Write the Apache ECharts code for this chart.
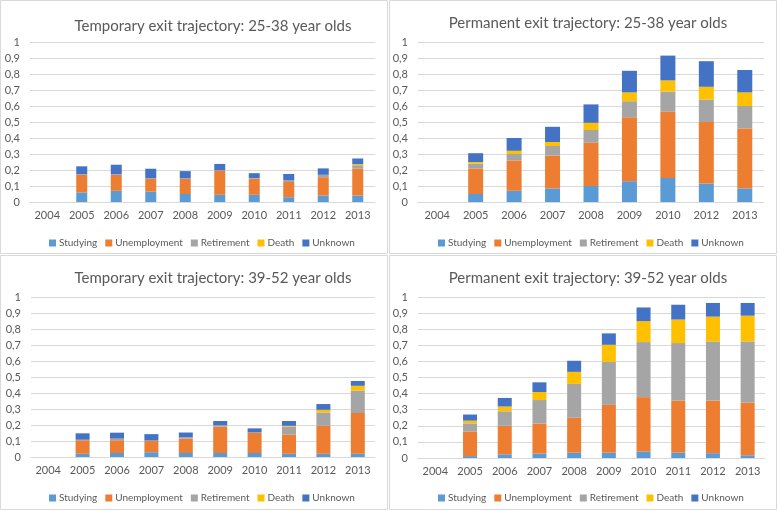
<!DOCTYPE html>
<html>
<head>
<meta charset="utf-8">
<script src="https://cdn.jsdelivr.net/npm/echarts@6/dist/echarts.min.js"></script>
<style>
  html, body { margin: 0; padding: 0; background: #fff; }
  #main { width: 778px; height: 511px; }
</style>
</head>
<body>
<div id="main"></div>
<script>
// categories
var years = ['2004', '2005', '2006', '2007', '2008', '2009', '2010', '2011', '2012', '2013'];
var yearsPerm25 = ['2004', '2005', '2006', '2007', '2008', '2009', '2010', '2012', '2013'];
var causes = ['Studying', 'Unemployment', 'Retirement', 'Death', 'Unknown'];
var colors = ['#5b9bd5', '#ed7d31', '#a5a5a5', '#ffc000', '#4472c4'];

// Temporary exit trajectory: 25-38
var t25Studying = [null, 0.06, 0.07, 0.065, 0.05, 0.045, 0.045, 0.03, 0.04, 0.04];
var t25Unemployment = [null, 0.11, 0.10, 0.08, 0.095, 0.15, 0.10, 0.095, 0.115, 0.17];
var t25Retirement = [null, 0.003, 0.003, 0.003, 0.003, 0.003, 0.005, 0.01, 0.015, 0.02];
var t25Death = [null, 0, 0, 0, 0, 0, 0, 0, 0, 0.007];
var t25Unknown = [null, 0.05, 0.06, 0.06, 0.045, 0.04, 0.03, 0.04, 0.04, 0.035];

// Permanent exit trajectory: 25-38
var p25Studying = [null, 0.05, 0.07, 0.085, 0.10, 0.13, 0.15, 0.115, 0.085];
var p25Unemployment = [null, 0.16, 0.19, 0.205, 0.27, 0.40, 0.415, 0.385, 0.375];
var p25Retirement = [null, 0.03, 0.04, 0.06, 0.08, 0.10, 0.125, 0.14, 0.14];
var p25Death = [null, 0.01, 0.02, 0.025, 0.045, 0.055, 0.07, 0.08, 0.085];
var p25Unknown = [null, 0.055, 0.08, 0.095, 0.115, 0.135, 0.155, 0.16, 0.14];

// Temporary exit trajectory: 39-52
var t39Studying = [null, 0.02, 0.025, 0.03, 0.025, 0.025, 0.025, 0.02, 0.02, 0.02];
var t39Unemployment = [null, 0.085, 0.08, 0.07, 0.09, 0.165, 0.125, 0.12, 0.175, 0.255];
var t39Retirement = [null, 0.003, 0.01, 0.003, 0.008, 0.008, 0.006, 0.05, 0.083, 0.14];
var t39Death = [null, 0, 0, 0, 0, 0, 0, 0.005, 0.017, 0.03];
var t39Unknown = [null, 0.04, 0.037, 0.04, 0.03, 0.027, 0.023, 0.03, 0.036, 0.03];

// Permanent exit trajectory: 39-52
var p39Studying = [null, 0.012, 0.023, 0.027, 0.033, 0.033, 0.04, 0.033, 0.03, 0.017];
var p39Unemployment = [null, 0.153, 0.177, 0.187, 0.217, 0.297, 0.338, 0.324, 0.327, 0.327];
var p39Retirement = [null, 0.05, 0.09, 0.146, 0.21, 0.267, 0.342, 0.357, 0.367, 0.38];
var p39Death = [null, 0.017, 0.03, 0.05, 0.075, 0.106, 0.13, 0.146, 0.154, 0.16];
var p39Unknown = [null, 0.038, 0.053, 0.06, 0.069, 0.071, 0.085, 0.092, 0.085, 0.079];

var panels = [
    { title: 'Temporary exit trajectory: 25-38 year olds', cats: years,
      data: [t25Studying, t25Unemployment, t25Retirement, t25Death, t25Unknown],
      grid: { left: 30, top: 42, width: 345, height: 160 }, titleX: 208, titleY: 14, legendX: 44, legendY: 233, barWidth: 11 },
    { title: 'Permanent exit trajectory: 25-38 year olds', cats: yearsPerm25,
      data: [p25Studying, p25Unemployment, p25Retirement, p25Death, p25Unknown],
      grid: { left: 418, top: 42, width: 346, height: 160 }, titleX: 583, titleY: 11, legendX: 433, legendY: 233, barWidth: 15 },
    { title: 'Temporary exit trajectory: 39-52 year olds', cats: years,
      data: [t39Studying, t39Unemployment, t39Retirement, t39Death, t39Unknown],
      grid: { left: 31, top: 297, width: 344, height: 160 }, titleX: 208, titleY: 266, legendX: 44, legendY: 488, barWidth: 14 },
    { title: 'Permanent exit trajectory: 39-52 year olds', cats: years,
      data: [p39Studying, p39Unemployment, p39Retirement, p39Death, p39Unknown],
      grid: { left: 418, top: 297, width: 347, height: 161 }, titleX: 583, titleY: 266, legendX: 433, legendY: 488, barWidth: 14 }
];

var font = 'Lato, "Open Sans", sans-serif';
var txt = '#595959';

var titles = [], grids = [], xAxes = [], yAxes = [], legends = [], series = [];
panels.forEach(function (p, i) {
    titles.push({
        text: p.title, left: p.titleX, top: p.titleY, textAlign: 'center',
        textStyle: { fontFamily: font, fontSize: 15, fontWeight: 'normal', color: txt }
    });
    grids.push(p.grid);
    xAxes.push({
        type: 'category', gridIndex: i, data: p.cats,
        axisLine: { lineStyle: { color: '#d9d9d9' } },
        axisTick: { show: false },
        axisLabel: { color: txt, fontFamily: font, fontSize: 11, margin: 8 }
    });
    yAxes.push({
        type: 'value', gridIndex: i, min: 0, max: 1, interval: 0.1,
        axisLine: { show: false }, axisTick: { show: false },
        splitLine: { lineStyle: { color: '#d9d9d9' } },
        axisLabel: {
            color: txt, fontFamily: font, fontSize: 11, margin: 10,
            formatter: function (v) { return String(Math.round(v * 10) / 10).replace('.', ','); }
        }
    });
    legends.push({
        data: causes, left: p.legendX, top: p.legendY, width: 330,
        itemWidth: 7, itemHeight: 7, itemGap: 8, icon: 'rect',
        textStyle: { color: txt, fontFamily: font, fontSize: 10, padding: [0, 0, 0, -2] }
    });
    causes.forEach(function (c, k) {
        series.push({
            name: c, type: 'bar', stack: 'p' + i, xAxisIndex: i, yAxisIndex: i,
            barWidth: p.barWidth, data: p.data[k],
            itemStyle: { color: colors[k] }
        });
    });
});

var borders = [[0.5, 0.5, 387, 253], [389.5, 0.5, 387, 253], [0.5, 255.5, 387, 254], [389.5, 255.5, 387, 254]];

var myChart = echarts.init(document.getElementById('main'));
var option = {
    backgroundColor: '#fff',
    animation: false,
    title: titles,
    grid: grids,
    xAxis: xAxes,
    yAxis: yAxes,
    legend: legends,
    series: series,
    graphic: borders.map(function (b) {
        return { type: 'rect', shape: { x: b[0], y: b[1], width: b[2], height: b[3] },
                 style: { fill: null, stroke: '#d9d9d9', lineWidth: 1 }, silent: true };
    })
};
myChart.setOption(option);
</script>
</body>
</html>
